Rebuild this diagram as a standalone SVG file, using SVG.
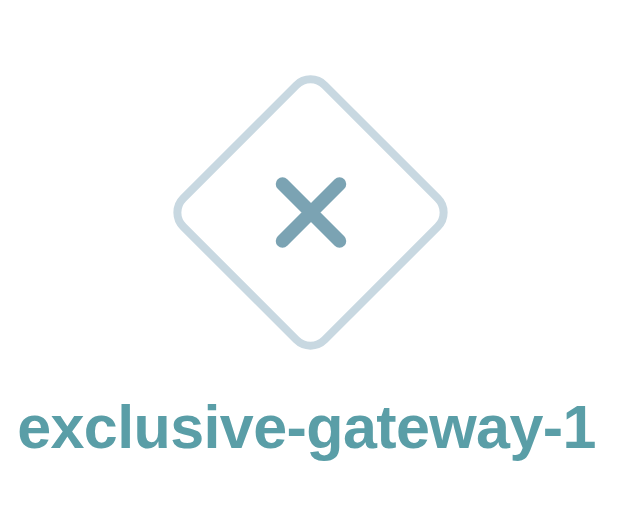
<svg xmlns="http://www.w3.org/2000/svg" width="626" height="518" viewBox="0 0 626 518">
<style>
.gw{fill:#ffffff;stroke:#c8d8e1;stroke-width:8}
.mark{stroke:#7ba3b3;stroke-width:13.5;stroke-linecap:round;fill:none}
.lbl{font-family:"Liberation Sans",Arial,sans-serif;font-weight:bold;font-size:61px;fill:#5a9ea7;text-anchor:middle;letter-spacing:-0.6px}
</style>
<rect width="626" height="518" fill="#ffffff"/>
<g id="connectors"/>
<g id="exclusive-gateway-1">
<rect class="gw" x="-100" y="-100" width="200" height="200" rx="20" ry="20" transform="translate(310.5 212.5) rotate(45)"/>
<path class="mark" d="M282.5 184 L339.5 241 M339.5 184 L282.5 241"/>
<text class="lbl" x="306.5" y="448">exclusive-gateway-1</text>
</g>
</svg>
